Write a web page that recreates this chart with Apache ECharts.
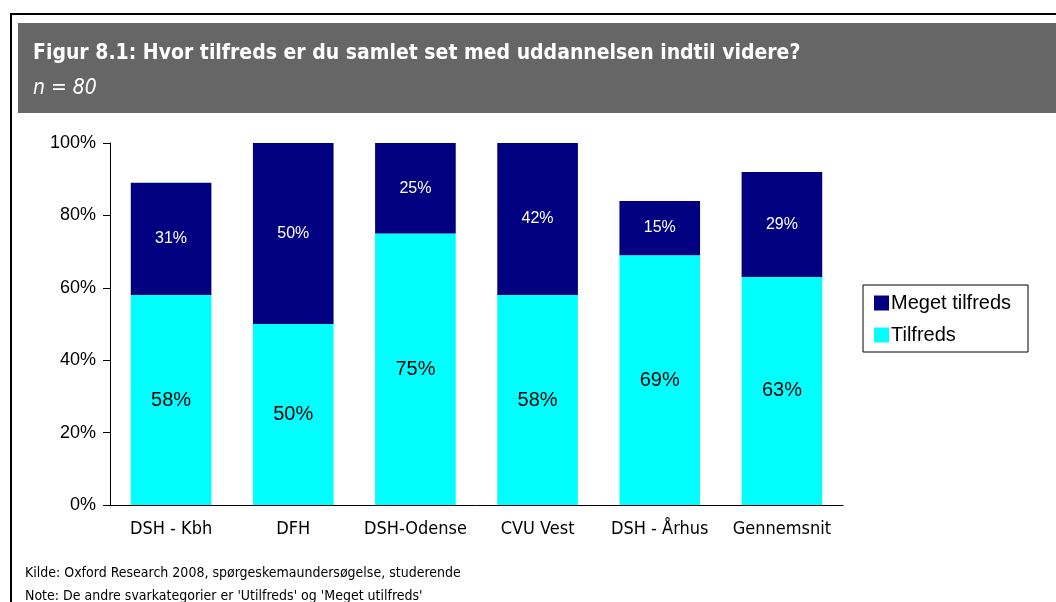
<!DOCTYPE html>
<html>
<head>
<meta charset="utf-8">
<script src="https://cdn.jsdelivr.net/npm/echarts@6/dist/echarts.min.js"></script>
<style>
  html, body { margin: 0; padding: 0; background: #fff; }
  #chart { width: 1056px; height: 602px; }
</style>
</head>
<body>
<div id="chart"></div>
<script>
var categories = ['DSH - Kbh', 'DFH', 'DSH-Odense', 'CVU Vest', 'DSH - Århus', 'Gennemsnit']
var tilfreds = [58, 50, 75, 58, 69, 63]
var megetTilfreds = [31, 50, 25, 42, 15, 29]
var yTicks = [0, 20, 40, 60, 80, 100]

var condensed = '"DejaVu Sans Condensed", "DejaVu Sans", sans-serif'
var arial = '"Liberation Sans", Arial, sans-serif'

var chart = echarts.init(document.getElementById('chart'))
chart.setOption({
  backgroundColor: '#fff',
  animation: false,
  graphic: [
    // outer frame
    { type: 'line', shape: { x1: 11, y1: 14, x2: 1056, y2: 14 }, style: { stroke: '#000', lineWidth: 2 } },
    { type: 'line', shape: { x1: 11, y1: 13, x2: 11, y2: 602 }, style: { stroke: '#000', lineWidth: 2 } },
    // grey header band
    { type: 'rect', shape: { x: 18, y: 23, width: 1040, height: 90 }, style: { fill: '#666666' } },
    {
      type: 'text', left: 33, top: 43,
      style: { text: 'Figur 8.1: Hvor tilfreds er du samlet set med uddannelsen indtil videre?', fill: '#fff', font: 'bold 21px ' + condensed }
    },
    {
      type: 'text', left: 33, top: 78,
      style: { text: 'n = 80', fill: '#fff', font: 'italic 21px ' + condensed }
    },
    {
      type: 'text', left: 25, top: 566,
      style: { text: 'Kilde: Oxford Research 2008, spørgeskemaundersøgelse, studerende', fill: '#000', font: '14px ' + condensed }
    },
    {
      type: 'text', left: 25, top: 589,
      style: { text: "Note: De andre svarkategorier er 'Utilfreds' og 'Meget utilfreds'", fill: '#000', font: '14px ' + condensed }
    },
    // legend frame
    { type: 'rect', shape: { x: 863, y: 285, width: 165, height: 67 }, style: { fill: 'none', stroke: '#000', lineWidth: 1 } }
  ],
  legend: {
    orient: 'vertical',
    left: 869,
    top: 288,
    itemWidth: 15,
    itemHeight: 15,
    itemGap: 12,
    icon: 'rect',
    data: ['Meget tilfreds', 'Tilfreds'],
    textStyle: { fontFamily: arial, fontSize: 20, color: '#000', padding: [0, 0, 0, -3] }
  },
  grid: { left: 110, right: 213, top: 143, bottom: 97 },
  xAxis: {
    type: 'category',
    data: categories,
    axisLine: { lineStyle: { color: '#000', width: 1 } },
    axisTick: { show: false },
    axisLabel: { interval: 0, fontFamily: condensed, fontSize: 18, color: '#000', margin: 15 }
  },
  yAxis: {
    type: 'value',
    min: 0,
    max: 100,
    interval: 20,
    splitLine: { show: false },
    axisLine: { show: true, lineStyle: { color: '#000', width: 1 } },
    axisTick: { show: true, length: 7, lineStyle: { color: '#000' } },
    axisLabel: {
      fontFamily: arial, fontSize: 18, color: '#000', margin: 14,
      formatter: function (v) { return yTicks.indexOf(v) >= 0 ? v + '%' : '' }
    }
  },
  series: [
    {
      name: 'Tilfreds',
      type: 'bar',
      stack: 'total',
      barWidth: '66%',
      data: tilfreds,
      itemStyle: { color: '#00FFFF' },
      label: {
        show: true, position: 'inside', formatter: '{c}%',
        fontFamily: arial, fontSize: 20, color: '#000'
      }
    },
    {
      name: 'Meget tilfreds',
      type: 'bar',
      stack: 'total',
      data: megetTilfreds,
      itemStyle: { color: '#000080' },
      label: {
        show: true, position: 'inside', formatter: '{c}%',
        fontFamily: arial, fontSize: 16, color: '#fff'
      }
    }
  ]
})
</script>
</body>
</html>
